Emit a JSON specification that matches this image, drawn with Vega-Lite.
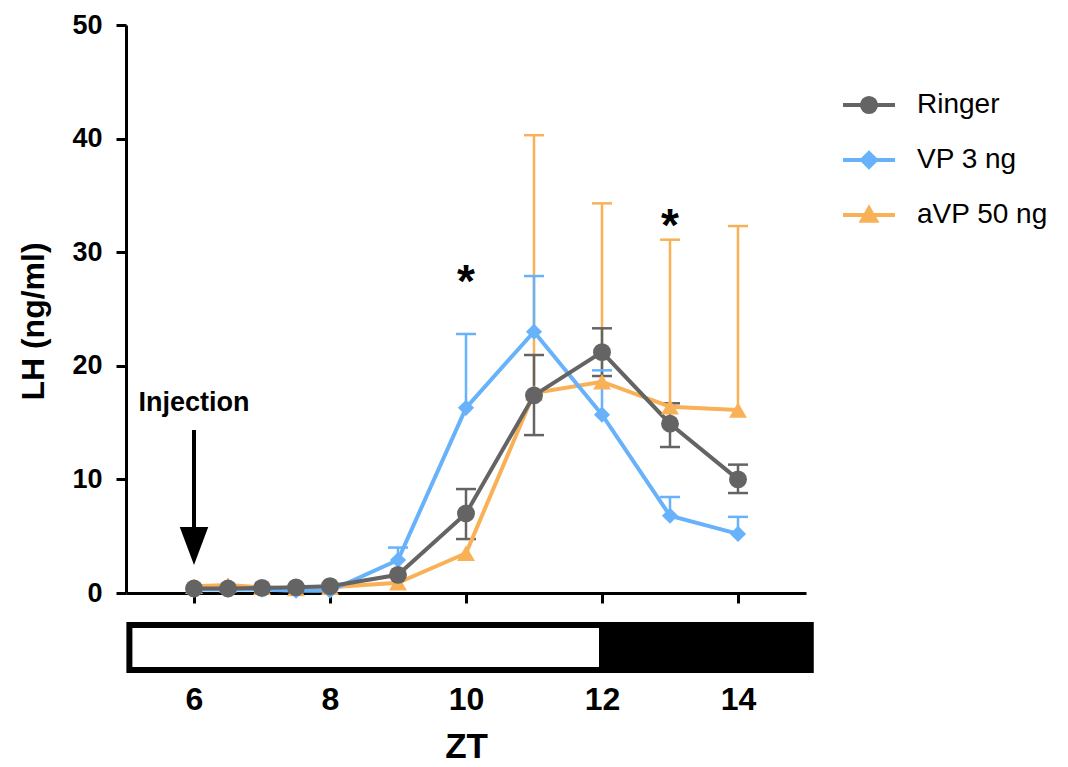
{
  "$schema": "https://vega.github.io/schema/vega-lite/v6.json",
  "background": "white",
  "padding": {"left": 17, "top": 11, "right": 5, "bottom": 5},
  "config": {
    "view": {"stroke": null},
    "font": "Liberation Sans",
    "axis": {"grid": false, "domainColor": "black", "tickColor": "black", "labelColor": "black", "titleColor": "black"}
  },
  "datasets": {
    "lh": [
      {"group": "aVP 50 ng", "zt": 6, "mean": 0.6, "lo": null, "hi": null},
      {"group": "aVP 50 ng", "zt": 6.5, "mean": 0.7, "lo": null, "hi": null},
      {"group": "aVP 50 ng", "zt": 7, "mean": 0.5, "lo": null, "hi": null},
      {"group": "aVP 50 ng", "zt": 7.5, "mean": 0.4, "lo": null, "hi": null},
      {"group": "aVP 50 ng", "zt": 8, "mean": 0.5, "lo": null, "hi": null},
      {"group": "aVP 50 ng", "zt": 9, "mean": 0.9, "lo": null, "hi": null},
      {"group": "aVP 50 ng", "zt": 10, "mean": 3.5, "lo": null, "hi": null},
      {"group": "aVP 50 ng", "zt": 11, "mean": 17.6, "lo": 17.6, "hi": 40.3},
      {"group": "aVP 50 ng", "zt": 12, "mean": 18.6, "lo": 18.6, "hi": 34.3},
      {"group": "aVP 50 ng", "zt": 13, "mean": 16.4, "lo": 16.4, "hi": 31.1},
      {"group": "aVP 50 ng", "zt": 14, "mean": 16.1, "lo": 16.1, "hi": 32.3},
      {"group": "VP 3 ng", "zt": 6, "mean": 0.3, "lo": null, "hi": null},
      {"group": "VP 3 ng", "zt": 6.5, "mean": 0.3, "lo": null, "hi": null},
      {"group": "VP 3 ng", "zt": 7, "mean": 0.3, "lo": null, "hi": null},
      {"group": "VP 3 ng", "zt": 7.5, "mean": 0.2, "lo": null, "hi": null},
      {"group": "VP 3 ng", "zt": 8, "mean": 0.2, "lo": null, "hi": null},
      {"group": "VP 3 ng", "zt": 9, "mean": 2.9, "lo": 2.9, "hi": 4.0},
      {"group": "VP 3 ng", "zt": 10, "mean": 16.3, "lo": 16.3, "hi": 22.8},
      {"group": "VP 3 ng", "zt": 11, "mean": 23.0, "lo": 23.0, "hi": 27.9},
      {"group": "VP 3 ng", "zt": 12, "mean": 15.7, "lo": 15.7, "hi": 19.6},
      {"group": "VP 3 ng", "zt": 13, "mean": 6.8, "lo": 6.8, "hi": 8.45},
      {"group": "VP 3 ng", "zt": 14, "mean": 5.2, "lo": 5.2, "hi": 6.7},
      {"group": "Ringer", "zt": 6, "mean": 0.4, "lo": null, "hi": null},
      {"group": "Ringer", "zt": 6.5, "mean": 0.4, "lo": null, "hi": null},
      {"group": "Ringer", "zt": 7, "mean": 0.45, "lo": null, "hi": null},
      {"group": "Ringer", "zt": 7.5, "mean": 0.5, "lo": null, "hi": null},
      {"group": "Ringer", "zt": 8, "mean": 0.6, "lo": null, "hi": null},
      {"group": "Ringer", "zt": 9, "mean": 1.6, "lo": null, "hi": null},
      {"group": "Ringer", "zt": 10, "mean": 7.0, "lo": 4.75, "hi": 9.15},
      {"group": "Ringer", "zt": 11, "mean": 17.4, "lo": 13.9, "hi": 20.95},
      {"group": "Ringer", "zt": 12, "mean": 21.2, "lo": 19.1, "hi": 23.3},
      {"group": "Ringer", "zt": 13, "mean": 14.9, "lo": 12.85, "hi": 16.7},
      {"group": "Ringer", "zt": 14, "mean": 10.0, "lo": 8.8, "hi": 11.3}
    ],
    "stars": [
      {"zt": 10, "y": 26.1, "text": "*"},
      {"zt": 13, "y": 31.0, "text": "*"}
    ],
    "injection": [
      {"zt": 6, "label_y": 16.0, "text": "Injection", "shaft_top": 14.35, "shaft_bottom": 5.0, "head": 4.14}
    ],
    "phases": [
      {"phase": "light", "start": 5.05, "end": 12},
      {"phase": "dark", "start": 12, "end": 15.07}
    ]
  },
  "spacing": 16,
  "resolve": {"legend": {"shape": "independent", "fill": "independent", "stroke": "independent"}},
  "vconcat": [
    {
      "width": 680,
      "height": 568,
      "encoding": {
        "x": {
          "field": "zt", "type": "quantitative",
          "scale": {"domain": [5, 15], "nice": false, "zero": false},
          "axis": {"values": [6, 8, 10, 12, 14], "labels": false, "ticks": true, "tickSize": 10, "tickWidth": 3, "domainWidth": 3, "title": null}
        }
      },
      "layer": [
        {
          "data": {"name": "lh"},
          "transform": [{"filter": "isValid(datum.hi)"}],
          "mark": {"type": "rule", "strokeWidth": 2.5},
          "encoding": {
            "y": {
              "field": "lo", "type": "quantitative",
              "scale": {"domain": [0, 50], "nice": false},
              "axis": {"values": [0, 10, 20, 30, 40, 50], "tickSize": 10, "tickWidth": 3, "domainWidth": 3, "labelFontSize": 27, "labelFontWeight": "bold", "labelPadding": 14, "title": "LH (ng/ml)", "titleFontSize": 32, "titleFontWeight": "bold", "titlePadding": 21, "titleY": 296}
            },
            "y2": {"field": "hi"},
            "color": {"field": "group", "type": "nominal", "scale": {"domain": ["Ringer", "VP 3 ng", "aVP 50 ng"], "range": ["#646464", "#67b2fb", "#f9b157"]}, "legend": null}
          }
        },
        {
          "data": {"name": "lh"},
          "transform": [{"filter": "isValid(datum.hi)"}],
          "mark": {"type": "tick", "orient": "horizontal", "size": 20, "thickness": 2.5, "opacity": 1},
          "encoding": {
            "y": {"field": "hi", "type": "quantitative"},
            "color": {"field": "group", "type": "nominal", "legend": null}
          }
        },
        {
          "data": {"name": "lh"},
          "transform": [{"filter": "isValid(datum.lo) && datum.lo < datum.mean"}],
          "mark": {"type": "tick", "orient": "horizontal", "size": 20, "thickness": 2.5, "opacity": 1},
          "encoding": {
            "y": {"field": "lo", "type": "quantitative"},
            "color": {"field": "group", "type": "nominal", "legend": null}
          }
        },
        {
          "data": {"name": "lh"},
          "mark": {"type": "line", "strokeWidth": 4},
          "encoding": {
            "y": {"field": "mean", "type": "quantitative"},
            "color": {"field": "group", "type": "nominal", "legend": null}
          }
        },
        {
          "data": {"name": "lh"},
          "transform": [{"filter": "datum.group == 'aVP 50 ng'"}],
          "mark": {"type": "point", "shape": "triangle-up", "filled": true, "size": 320, "opacity": 1},
          "encoding": {
            "y": {"field": "mean", "type": "quantitative"},
            "color": {"field": "group", "type": "nominal", "legend": null}
          }
        },
        {
          "data": {"name": "lh"},
          "transform": [{"filter": "datum.group == 'VP 3 ng'"}],
          "mark": {"type": "point", "shape": "diamond", "filled": true, "size": 260, "opacity": 1},
          "encoding": {
            "y": {"field": "mean", "type": "quantitative"},
            "color": {"field": "group", "type": "nominal", "legend": null}
          }
        },
        {
          "data": {"name": "lh"},
          "transform": [{"filter": "datum.group == 'Ringer'"}],
          "mark": {"type": "point", "shape": "circle", "filled": true, "size": 320, "opacity": 1},
          "encoding": {
            "y": {"field": "mean", "type": "quantitative"},
            "color": {"field": "group", "type": "nominal", "legend": null}
          }
        },
        {
          "data": {"name": "lh"},
          "transform": [{"filter": "datum.zt == 6"}],
          "mark": {"type": "point", "filled": true, "opacity": 0, "strokeWidth": 4},
          "encoding": {
            "y": {"field": "mean", "type": "quantitative"},
            "shape": {
              "field": "group", "type": "nominal",
              "scale": {
                "domain": ["Ringer", "VP 3 ng", "aVP 50 ng"],
                "range": [
                  "M-1,0H1M-0.27,0A0.27,0.27,0,1,1,0.27,0A0.27,0.27,0,1,1,-0.27,0Z",
                  "M-1,0H1M-0.27,0L0,-0.27L0.27,0L0,0.27Z",
                  "M-1,0H1M-0.27,0.22L0.27,0.22L0,-0.26Z"
                ]
              },
              "legend": {
                "title": null, "orient": "none", "legendX": 715, "legendY": 52,
                "symbolSize": 2704, "symbolStrokeWidth": 4,
                "labelFont": "Liberation Sans", "labelFontSize": 28, "labelColor": "black",
                "labelOffset": 20, "rowPadding": 11, "padding": 0,
                "encode": {"symbols": {"update": {"opacity": {"value": 1}, "strokeWidth": {"value": 4}}}}
              }
            },
            "fill": {
              "field": "group", "type": "nominal",
              "scale": {"domain": ["Ringer", "VP 3 ng", "aVP 50 ng"], "range": ["#646464", "#67b2fb", "#f9b157"]},
              "legend": {
                "title": null, "orient": "none", "legendX": 715, "legendY": 52,
                "symbolSize": 2704, "symbolStrokeWidth": 4,
                "labelFont": "Liberation Sans", "labelFontSize": 28, "labelColor": "black",
                "labelOffset": 20, "rowPadding": 11, "padding": 0,
                "encode": {"symbols": {"update": {"opacity": {"value": 1}, "strokeWidth": {"value": 4}}}}
              }
            },
            "stroke": {
              "field": "group", "type": "nominal",
              "scale": {"domain": ["Ringer", "VP 3 ng", "aVP 50 ng"], "range": ["#646464", "#67b2fb", "#f9b157"]},
              "legend": {
                "title": null, "orient": "none", "legendX": 715, "legendY": 52,
                "symbolSize": 2704, "symbolStrokeWidth": 4,
                "labelFont": "Liberation Sans", "labelFontSize": 28, "labelColor": "black",
                "labelOffset": 20, "rowPadding": 11, "padding": 0,
                "encode": {"symbols": {"update": {"opacity": {"value": 1}, "strokeWidth": {"value": 4}}}}
              }
            }
          }
        },
        {
          "data": {"name": "stars"},
          "mark": {"type": "text", "fontSize": 46, "fontWeight": "bold", "font": "Liberation Sans", "baseline": "alphabetic", "align": "center", "color": "black"},
          "encoding": {
            "y": {"field": "y", "type": "quantitative"},
            "text": {"field": "text"}
          }
        },
        {
          "data": {"name": "injection"},
          "mark": {"type": "text", "fontSize": 27, "fontWeight": "bold", "font": "Liberation Sans", "baseline": "alphabetic", "align": "center", "color": "black"},
          "encoding": {
            "y": {"field": "label_y", "type": "quantitative"},
            "text": {"field": "text"}
          }
        },
        {
          "data": {"name": "injection"},
          "mark": {"type": "rule", "strokeWidth": 4, "color": "black"},
          "encoding": {
            "y": {"field": "shaft_top", "type": "quantitative"},
            "y2": {"field": "shaft_bottom"}
          }
        },
        {
          "data": {"name": "injection"},
          "mark": {"type": "point", "shape": "M-0.75,-1L0.75,-1L0,1Z", "size": 1444, "filled": true, "color": "black", "opacity": 1},
          "encoding": {
            "y": {"field": "head", "type": "quantitative"}
          }
        }
      ]
    },
    {
      "width": 680,
      "height": 45,
      "data": {"name": "phases"},
      "encoding": {
        "x": {
          "field": "start", "type": "quantitative",
          "scale": {"domain": [5, 15], "nice": false, "zero": false},
          "axis": {"values": [6, 8, 10, 12, 14], "domain": false, "ticks": false, "labelFontSize": 32, "labelFontWeight": "bold", "labelPadding": 14, "title": "ZT", "titleFontSize": 35, "titleFontWeight": "bold", "titlePadding": 14}
        },
        "x2": {"field": "end"}
      },
      "layer": [
        {
          "transform": [{"filter": "datum.phase == 'light'"}],
          "mark": {"type": "rect", "fill": "white", "stroke": "black", "strokeWidth": 6}
        },
        {
          "transform": [{"filter": "datum.phase == 'dark'"}],
          "mark": {"type": "rect", "fill": "black", "stroke": "black", "strokeWidth": 6}
        }
      ]
    }
  ]
}
